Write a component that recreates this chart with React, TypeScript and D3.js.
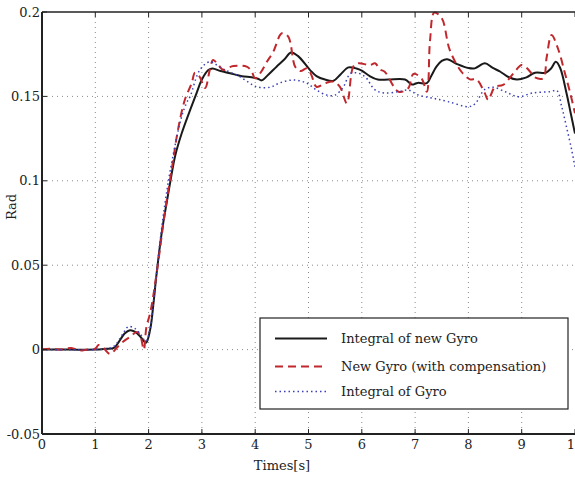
import React from "react";
import * as d3 from "d3";

const xTicks = [0, 1, 2, 3, 4, 5, 6, 7, 8, 9, 10];
const yTicks = [-0.05, 0, 0.05, 0.1, 0.15, 0.2];
const yTickLabels = ["-0.05", "0", "0.05", "0.1", "0.15", "0.2"];

const seriesNames = ["Integral of new Gyro", "New Gyro (with compensation)", "Integral of Gyro"];

const timeNewIntegral = [0, 0.5, 1.0, 1.2, 1.35, 1.45, 1.55, 1.65, 1.75, 1.85, 1.95, 2.03, 2.09, 2.15, 2.25, 2.35, 2.41, 2.5, 2.62, 2.78, 2.9, 3.0, 3.12, 3.2, 3.35, 3.53, 3.75, 3.93, 4.05, 4.12, 4.25, 4.4, 4.55, 4.67, 4.8, 5.03, 5.15, 5.31, 5.47, 5.6, 5.75, 5.9, 6.0, 6.15, 6.3, 6.5, 6.81, 6.94, 7.05, 7.22, 7.3, 7.4, 7.5, 7.6, 7.8, 8.0, 8.12, 8.31, 8.45, 8.6, 8.75, 8.91, 9.09, 9.25, 9.45, 9.55, 9.64, 9.72, 9.84, 9.92, 10];
const valueNewIntegral = [0, 0, 0, 0.0005, 0.001, 0.005, 0.0095, 0.0115, 0.0105, 0.0075, 0.004, 0.012, 0.027, 0.045, 0.07, 0.089, 0.1, 0.115, 0.128, 0.142, 0.152, 0.16, 0.1656, 0.1666, 0.165, 0.1637, 0.162, 0.1613, 0.1605, 0.1595, 0.163, 0.1676, 0.172, 0.176, 0.174, 0.1656, 0.162, 0.16, 0.1593, 0.163, 0.1672, 0.1665, 0.1652, 0.162, 0.16, 0.16, 0.16, 0.157, 0.158, 0.1578, 0.162, 0.1676, 0.171, 0.172, 0.169, 0.1668, 0.1666, 0.1696, 0.167, 0.1646, 0.1615, 0.16, 0.1613, 0.164, 0.164, 0.1665, 0.1705, 0.167, 0.152, 0.14, 0.128];

const timeNewGyro = [0, 0.2, 0.35, 0.55, 0.7, 0.85, 1.0, 1.06, 1.15, 1.28, 1.4, 1.52, 1.65, 1.78, 1.84, 1.91, 1.96, 2.03, 2.15, 2.3, 2.45, 2.55, 2.68, 2.81, 2.87, 2.95, 3.06, 3.15, 3.21, 3.3, 3.4, 3.5, 3.59, 3.84, 3.93, 4.0, 4.1, 4.22, 4.34, 4.5, 4.62, 4.75, 4.85, 4.97, 5.05, 5.15, 5.31, 5.47, 5.59, 5.72, 5.84, 5.93, 6.15, 6.25, 6.34, 6.43, 6.69, 6.87, 6.97, 7.12, 7.22, 7.28, 7.36, 7.5, 7.65, 7.87, 8.03, 8.15, 8.31, 8.37, 8.5, 8.65, 8.87, 9.0, 9.16, 9.22, 9.4, 9.47, 9.56, 9.69, 9.81, 9.91, 10];
const valueNewGyro = [0, 0.0005, 0, 0.001, -0.0005, 0, 0.0005, 0.0027, 0.001, -0.0026, 0.001, 0.0047, 0.0075, 0.0104, 0.0087, 0.0, 0.0136, 0.0217, 0.045, 0.08, 0.11, 0.13, 0.148, 0.158, 0.164, 0.162, 0.155, 0.166, 0.1716, 0.169, 0.1656, 0.167, 0.168, 0.1676, 0.165, 0.1607, 0.164, 0.1705, 0.1765, 0.1874, 0.1854, 0.1676, 0.165, 0.1666, 0.163, 0.1557, 0.1578, 0.1587, 0.1557, 0.1459, 0.1676, 0.1696, 0.1686, 0.1696, 0.166, 0.1646, 0.1528, 0.1548, 0.1633, 0.1607, 0.1528, 0.183, 0.1996, 0.1963, 0.1775, 0.1646, 0.1601, 0.1601, 0.1518, 0.1479, 0.1557, 0.1568, 0.1646, 0.1686, 0.1646, 0.1617, 0.1607, 0.1735, 0.1864, 0.1775, 0.1638, 0.152, 0.14];

const timeGyroIntegral = [0, 1.0, 1.2, 1.35, 1.45, 1.55, 1.62, 1.74, 1.85, 1.95, 2.03, 2.1, 2.2, 2.3, 2.4, 2.53, 2.62, 2.71, 2.78, 2.96, 3.15, 3.37, 3.71, 4.03, 4.28, 4.47, 4.72, 4.97, 5.15, 5.34, 5.5, 5.65, 5.78, 5.9, 6.06, 6.25, 6.43, 6.69, 6.87, 7.06, 7.34, 7.62, 8.0, 8.12, 8.31, 8.47, 8.69, 8.94, 9.2, 9.53, 9.66, 9.75, 9.84, 9.94, 10];
const valueGyroIntegral = [0, 0, 0.0005, 0.002, 0.006, 0.011, 0.0136, 0.0126, 0.009, 0.005, 0.013, 0.03, 0.06, 0.085, 0.105, 0.126, 0.138, 0.146, 0.15, 0.1656, 0.1705, 0.1666, 0.1617, 0.1557, 0.1554, 0.1581, 0.1597, 0.1578, 0.1538, 0.1508, 0.1508, 0.1554, 0.1633, 0.164, 0.1617, 0.1538, 0.152, 0.1528, 0.1538, 0.1508, 0.1489, 0.1469, 0.1439, 0.1455, 0.1542, 0.1554, 0.1528, 0.1498, 0.152, 0.1528, 0.1534, 0.144, 0.132, 0.118, 0.108];

const W = 575;
const H = 477;
const L = 42, R = 575, T = 12, B = 434;
const FONT = "'DejaVu Serif', serif";

export default function App() {
  const x = d3.scaleLinear().domain([0, 10]).range([L, R]);
  const y = d3.scaleLinear().domain([-0.05, 0.2]).range([B, T]);
  const line = d3
    .line<[number, number]>()
    .x((d) => x(d[0]))
    .y((d) => y(d[1]))
    .curve(d3.curveCatmullRom.alpha(0.5));
  const zip = (t: number[], v: number[]) => t.map((ti, i) => [ti, v[i]] as [number, number]);

  const series = [
    { name: seriesNames[0], data: zip(timeNewIntegral, valueNewIntegral), color: "#1a1a1a", width: 2, dash: "none" },
    { name: seriesNames[1], data: zip(timeNewGyro, valueNewGyro), color: "#c0282d", width: 2, dash: "8,5" },
    { name: seriesNames[2], data: zip(timeGyroIntegral, valueGyroIntegral), color: "#3a3fb8", width: 1.5, dash: "1.5,3" },
  ];

  const legendX = 260, legendY = 318, legendW = 308, legendH = 91;
  const rowY = [338.5, 366.5, 391.5];

  return (
    <svg width={W} height={H} style={{ position: "absolute", left: 0, top: 0, background: "#fff" }} fontFamily={FONT}>
      <defs>
        <clipPath id="plot">
          <rect x={L} y={T - 2} width={R - L} height={B - T + 4} />
        </clipPath>
      </defs>
      <rect x={0} y={0} width={W} height={H} fill="#fff" />
      {/* grid */}
      {xTicks.slice(1, -1).map((t) => (
        <line key={"gx" + t} x1={x(t)} x2={x(t)} y1={T} y2={B} stroke="#8a8a8a" strokeWidth={1} strokeDasharray="1,4" />
      ))}
      {yTicks.slice(1, -1).map((t) => (
        <line key={"gy" + t} x1={L} x2={R} y1={y(t)} y2={y(t)} stroke="#8a8a8a" strokeWidth={1} strokeDasharray="1,4" />
      ))}
      {/* series */}
      <g clipPath="url(#plot)">
        {series.map((s) => (
          <path key={s.name} d={line(s.data) || ""} fill="none" stroke={s.color} strokeWidth={s.width} strokeDasharray={s.dash} strokeLinejoin="round" />
        ))}
      </g>
      {/* box */}
      <line x1={L} x2={R} y1={T} y2={T} stroke="#222" strokeWidth={1.5} />
      <line x1={L} x2={L} y1={T} y2={B} stroke="#222" strokeWidth={2} />
      <line x1={L} x2={R} y1={B} y2={B} stroke="#222" strokeWidth={2} />
      {/* ticks */}
      {xTicks.map((t) => (
        <g key={"xt" + t}>
          <line x1={x(t)} x2={x(t)} y1={B} y2={B - 5} stroke="#222" strokeWidth={1} />
          <line x1={x(t)} x2={x(t)} y1={T} y2={T + 5} stroke="#222" strokeWidth={1} />
          <text x={x(t)} y={449} textAnchor="middle" fontSize={13} fill="#222">
            {t}
          </text>
        </g>
      ))}
      {yTicks.map((t, i) => (
        <g key={"yt" + t}>
          <line x1={L} x2={L + 5} y1={y(t)} y2={y(t)} stroke="#222" strokeWidth={1} />
          <text x={L - 2} y={y(t) + 4.5} textAnchor="end" fontSize={13} fill="#222">
            {yTickLabels[i]}
          </text>
        </g>
      ))}
      {/* axis labels */}
      <text x={282} y={470} textAnchor="middle" fontSize={13} fill="#222">
        Times[s]
      </text>
      <text transform="translate(16,207) rotate(-90)" textAnchor="middle" fontSize={13} fill="#222">
        Rad
      </text>
      {/* legend */}
      <rect x={legendX} y={legendY} width={legendW} height={legendH} fill="#fff" stroke="#222" strokeWidth={1.2} />
      {series.map((s, i) => (
        <g key={"lg" + i}>
          <line x1={275} x2={327} y1={rowY[i]} y2={rowY[i]} stroke={s.color} strokeWidth={s.width} strokeDasharray={s.dash} />
          <text x={341} y={rowY[i] + 4.5} fontSize={13} fill="#222">
            {s.name}
          </text>
        </g>
      ))}
    </svg>
  );
}
